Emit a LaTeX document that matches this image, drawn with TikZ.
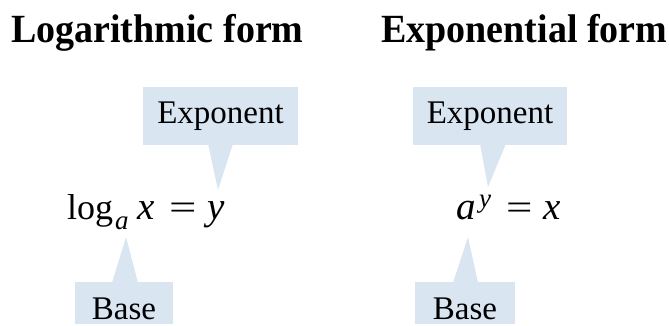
\documentclass[tikz,border=0pt]{standalone}
\usepackage{fontspec}
\setmainfont{Liberation Serif}
\usetikzlibrary{calc}
\definecolor{calloutblue}{RGB}{217,229,241}
\tikzset{
  title/.style={anchor=base west, inner sep=0pt, font=\fontsize{40}{42}\selectfont\bfseries},
  eq/.style={anchor=base west, inner sep=0pt, font=\fontsize{36}{40}\selectfont},
  eqit/.style={anchor=base west, inner sep=0pt, font=\fontsize{39}{42}\selectfont\itshape},
  eqsmall/.style={anchor=base west, inner sep=0pt, font=\fontsize{27}{28}\selectfont\itshape},
  callbox/.style={fill=calloutblue, anchor=base, inner xsep=0pt,
    font=\fontsize{33}{36}\selectfont},
  callout/.style={fill=calloutblue}
}
\begin{document}
\begin{tikzpicture}[x=1pt,y=-1pt]
\useasboundingbox (0,0) rectangle (669,325);
% titles
\node[title] (tlog) at (11,42) {\scalebox{0.95}[1]{Logarithmic form}};
\node[title] (texp) at (381,42) {\scalebox{0.95}[1]{Exponential form}};
% callout boxes
\node[callbox, minimum width=155pt, text height=23pt, text depth=7pt, inner ysep=14pt] (expL) at (220.5,123.5) {Exponent};
\node[callbox, minimum width=154pt, text height=23pt, text depth=7pt, inner ysep=14pt] (expR) at (490,123.5) {Exponent};
\node[callbox, minimum width=98pt, text height=32pt, text depth=0pt, inner ysep=5pt] (baseL) at (124,319) {Base};
\node[callbox, minimum width=100pt, text height=32pt, text depth=0pt, inner ysep=5pt] (baseR) at (465,319) {Base};
% pointer tips
\coordinate (tipEL) at (218,190);
\coordinate (tipER) at (488,187);
\coordinate (tipBL) at (126,237);
\coordinate (tipBR) at (468,237);
\fill[callout] ($(expL.south)+(-12.5,-1)$) -- (tipEL) -- ($(expL.south)+(12.5,-1)$) -- cycle;
\fill[callout] ($(expR.south)+(-10,-1)$) -- (tipER) -- ($(expR.south)+(16,-1)$) -- cycle;
\fill[callout] ($(baseL.north)+(-12,1)$) -- (tipBL) -- ($(baseL.north)+(14,1)$) -- cycle;
\fill[callout] ($(baseR.north)+(-12,1)$) -- (tipBR) -- ($(baseR.north)+(13,1)$) -- cycle;
% logarithmic equation
\node[eq] (log) at (67,219) {log};
\node[eqsmall] (suba) at (115,229) {a};
\node[eqit] (lx) at (137,219) {x};
\node[eq] (leq) at (169,219) {\scalebox{1.35}[1]{=}};
\node[eqit] (ly) at (207,219) {y};
% exponential equation
\node[eqit] (ea) at (456,219) {a};
\node[eqsmall] (supy) at (479,207) {y};
\node[eq] (req) at (506,219) {\scalebox{1.3}[1]{=}};
\node[eqit] (rx) at (543,219) {x};
\end{tikzpicture}
\end{document}
